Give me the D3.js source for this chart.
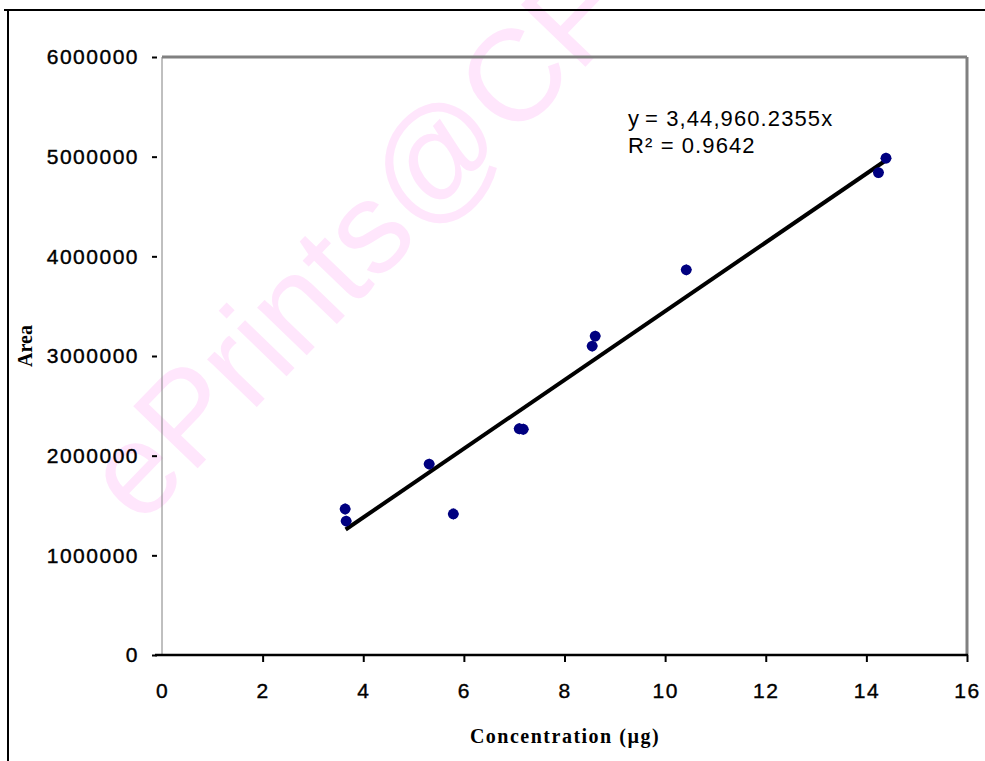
<!DOCTYPE html>
<html>
<head>
<meta charset="utf-8">
<script src="https://cdn.jsdelivr.net/npm/d3@7"></script>
<style>
  body { margin: 0; background: #fff; }
  .tick text { font-family: "Liberation Sans", Arial, sans-serif; font-size: 21px; letter-spacing: 1.5px; fill: #000; stroke: #000; stroke-width: 0.4px; }
  .axis-label { font-family: "Liberation Serif", "Times New Roman", serif; font-weight: bold; font-size: 20px; fill: #000; }
  .eq { font-family: "Liberation Sans", Arial, sans-serif; font-size: 22px; letter-spacing: 1.1px; fill: #000; }
</style>
</head>
<body>
<svg id="chart" width="985" height="761"></svg>
<script>
// concentration (µg) vs peak area
const concentration = [3.64, 3.66, 5.31, 5.79, 7.10, 7.18, 8.55, 8.61, 10.42, 14.24, 14.39];
const area = [1465000, 1344000, 1916000, 1415000, 2270000, 2265000, 3100000, 3200000, 3865000, 4840000, 4985000];
const slope = 344960.2355;
const trendRange = [3.65, 14.39];
const xTicks = [0, 2, 4, 6, 8, 10, 12, 14, 16];
const yTicks = [0, 1000000, 2000000, 3000000, 4000000, 5000000, 6000000];

const svg = d3.select('#chart');

const x = d3.scaleLinear().domain([0, 16]).range([162, 967]);
const y = d3.scaleLinear().domain([0, 6000000]).range([655, 57]);

// watermark
svg.append('text')
    .attr('transform', 'translate(140,528) rotate(-46)')
    .attr('font-family', '"Liberation Sans", Arial, sans-serif')
    .attr('font-size', 130)
    .attr('fill', '#ffe6fc')
    .text('ePrints@CFTRI');

// outer frame
svg.append('line').attr('x1', 4).attr('x2', 985).attr('y1', 10).attr('y2', 10)
    .attr('stroke', '#000').attr('stroke-width', 2);
svg.append('line').attr('x1', 8).attr('x2', 8).attr('y1', 10).attr('y2', 761)
    .attr('stroke', '#000').attr('stroke-width', 2);

// plot frame
svg.append('line').attr('x1', x(0)).attr('x2', x(16)).attr('y1', y(6000000)).attr('y2', y(6000000))
    .attr('stroke', '#808080').attr('stroke-width', 3);
svg.append('line').attr('x1', x(16)).attr('x2', x(16)).attr('y1', y(6000000)).attr('y2', y(0))
    .attr('stroke', '#808080').attr('stroke-width', 3);
svg.append('line').attr('x1', x(0)).attr('x2', x(0)).attr('y1', y(6000000)).attr('y2', y(0))
    .attr('stroke', '#808080').attr('stroke-width', 1);

// y axis
const yAxisG = svg.append('g')
    .attr('transform', `translate(${x(0) - 5},0)`)
    .call(d3.axisLeft(y).tickValues(yTicks).tickSize(5).tickPadding(13).tickFormat(d3.format('d')));
yAxisG.select('.domain').remove();
yAxisG.selectAll('.tick line').attr('stroke', '#000').attr('stroke-width', 2);

// x axis
const xAxisG = svg.append('g')
    .attr('transform', `translate(0,${y(0)})`)
    .call(d3.axisBottom(x).tickValues(xTicks).tickSize(7).tickPadding(21));
xAxisG.select('.domain').remove();
xAxisG.selectAll('.tick line').attr('stroke', '#000').attr('stroke-width', 2)
    .filter(d => d === 0).remove();
svg.append('line').attr('x1', x(0) - 7).attr('x2', x(16) + 1).attr('y1', y(0)).attr('y2', y(0))
    .attr('stroke', '#000').attr('stroke-width', 2.5);

// trend line
svg.append('line')
    .attr('x1', x(trendRange[0])).attr('y1', y(slope * trendRange[0]))
    .attr('x2', x(trendRange[1])).attr('y2', y(slope * trendRange[1]))
    .attr('stroke', '#000').attr('stroke-width', 4);

// points
const pts = svg.append('g').selectAll('g')
    .data(concentration.map((c, i) => ({ c: c, a: area[i] })))
    .join('g')
    .attr('transform', d => `translate(${x(d.c)},${y(d.a)})`);
pts.append('path')
    .attr('d', d3.symbol(d3.symbolSquare, 64))
    .attr('transform', 'rotate(45)')
    .attr('fill', '#000080');
pts.append('circle').attr('r', 5.4).attr('fill', '#000080');

// equation
const eq = svg.append('text').attr('class', 'eq').attr('y', 126);
eq.append('tspan').attr('x', 628).text('y');
eq.append('tspan').attr('x', 645).text('= 3,44,960.2355x');
svg.append('text').attr('class', 'eq').attr('x', 628).attr('y', 153).text('R² = 0.9642');

// axis titles
svg.append('text')
    .attr('class', 'axis-label')
    .attr('x', 565)
    .attr('y', 743)
    .attr('text-anchor', 'middle')
    .attr('letter-spacing', 1.5)
    .text('Concentration (µg)');

svg.append('text')
    .attr('class', 'axis-label')
    .attr('transform', 'translate(32,346) rotate(-90)')
    .attr('text-anchor', 'middle')
    .attr('font-size', 18)
    .text('Area');
</script>
</body>
</html>
